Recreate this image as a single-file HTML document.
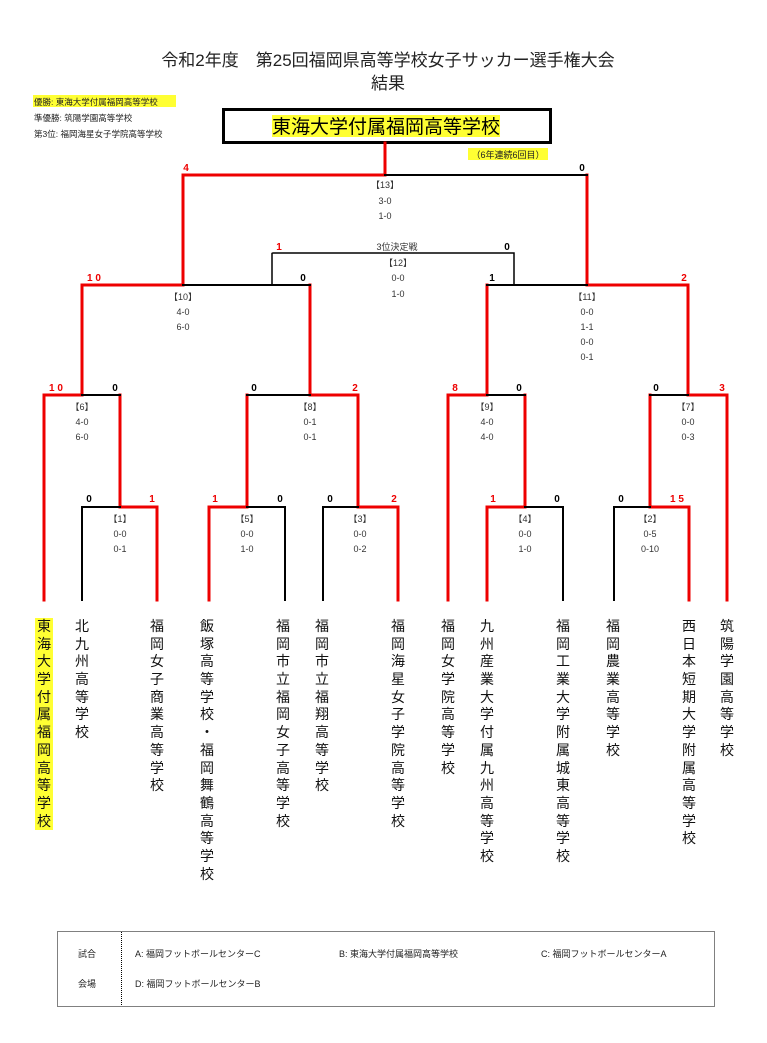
<!DOCTYPE html>
<html><head><meta charset="utf-8"><style>
html,body{margin:0;padding:0;background:#fff}
body{position:relative;width:767px;height:1043px;overflow:hidden}
svg{display:block;position:absolute;left:0;top:0}
text{font-family:"Liberation Sans","Noto Sans CJK JP",sans-serif}
.n{position:absolute;top:618px;width:18px;margin-left:-9px;font-family:"Liberation Sans","Noto Sans CJK JP",sans-serif;font-size:14px;line-height:17.7px;text-align:center;color:#111;word-break:break-all}
.n span{display:block;height:17.7px}
.y span{background:#ffff33}
</style></head><body>
<svg width="767" height="1043" viewBox="0 0 767 1043" xmlns="http://www.w3.org/2000/svg">
<text x="388" y="66" font-size="17" text-anchor="middle" fill="#222">令和2年度　第25回福岡県高等学校女子サッカー選手権大会</text>
<text x="388" y="89" font-size="17" text-anchor="middle" fill="#222">結果</text>
<rect x="33" y="95" width="143" height="12" fill="#ffff33"/>
<text x="34" y="105" font-size="8.5" fill="#222">優勝: 東海大学付属福岡高等学校</text>
<text x="34" y="121" font-size="8.5" fill="#222">準優勝: 筑陽学園高等学校</text>
<text x="34" y="137" font-size="8.5" fill="#222">第3位: 福岡海星女子学院高等学校</text>
<rect x="223.5" y="109.5" width="327" height="33" fill="#fff" stroke="#000" stroke-width="3"/>
<rect x="272" y="115" width="228" height="22" fill="#ffff33"/>
<text x="386" y="133" font-size="19" text-anchor="middle" fill="#000">東海大学付属福岡高等学校</text>
<rect x="468" y="148" width="80" height="12" fill="#ffff33"/>
<text x="508" y="158" font-size="9" text-anchor="middle" fill="#222">（6年連続6回目）</text>
<g fill="none" stroke-linecap="square">
<g stroke="#e00" stroke-width="3">
<path d="M385 143V175H183V285M587 175V285"/>
<path d="M82 285H183M82 285V395M310 285V395"/>
<path d="M587 285H688M487 285V395M688 285V395"/>
<path d="M44 395H82M44 395V600M120 395V507"/>
<path d="M120 507H157V600"/>
<path d="M310 395H358V507M247 395V507"/>
<path d="M209 507H247M209 507V600"/>
<path d="M358 507H398V600"/>
<path d="M448 395H487M448 395V600M525 395V507"/>
<path d="M487 507H525M487 507V600"/>
<path d="M688 395H727V600M650 395V507"/>
<path d="M650 507H689V600"/>
</g>
<g stroke="#000" stroke-width="2">
<path d="M385 175H587"/>
<path d="M183 285H310"/>
<path d="M487 285H587"/>
<path d="M82 395H120"/>
<path d="M82 507H120M82 507V600"/>
<path d="M247 395H310"/>
<path d="M247 507H285V600"/>
<path d="M323 507H358M323 507V600"/>
<path d="M487 395H525"/>
<path d="M525 507H563V600"/>
<path d="M650 395H688"/>
<path d="M614 507H650M614 507V600"/>
</g>
<path d="M272 285V253H514V285" stroke="#000" stroke-width="1.5" stroke-dasharray="1.5 1.5"/>
</g>
<g font-size="10" font-weight="bold" text-anchor="middle">
<text x="186" y="171" fill="#e00">4</text><text x="582" y="171" fill="#000">0</text>
<text x="279" y="250" fill="#e00">1</text><text x="507" y="250" fill="#000">0</text>
<text x="94" y="281" fill="#e00">1 0</text><text x="303" y="281" fill="#000">0</text>
<text x="492" y="281" fill="#000">1</text><text x="684" y="281" fill="#e00">2</text>
<text x="56" y="391" fill="#e00">1 0</text><text x="115" y="391" fill="#000">0</text>
<text x="254" y="391" fill="#000">0</text><text x="355" y="391" fill="#e00">2</text>
<text x="455" y="391" fill="#e00">8</text><text x="519" y="391" fill="#000">0</text>
<text x="656" y="391" fill="#000">0</text><text x="722" y="391" fill="#e00">3</text>
<text x="89" y="502" fill="#000">0</text><text x="152" y="502" fill="#e00">1</text>
<text x="215" y="502" fill="#e00">1</text><text x="280" y="502" fill="#000">0</text>
<text x="330" y="502" fill="#000">0</text><text x="394" y="502" fill="#e00">2</text>
<text x="493" y="502" fill="#e00">1</text><text x="557" y="502" fill="#000">0</text>
<text x="621" y="502" fill="#000">0</text><text x="677" y="502" fill="#e00">1 5</text>
</g>
<g font-size="9" text-anchor="middle" fill="#333">
<text x="385" y="188">【13】</text><text x="385" y="204">3-0</text><text x="385" y="219">1-0</text>
<text x="397" y="250">3位決定戦</text>
<text x="398" y="266">【12】</text><text x="398" y="281">0-0</text><text x="398" y="297">1-0</text>
<text x="183" y="300">【10】</text><text x="183" y="315">4-0</text><text x="183" y="330">6-0</text>
<text x="587" y="300">【11】</text><text x="587" y="315">0-0</text><text x="587" y="330">1-1</text><text x="587" y="345">0-0</text><text x="587" y="360">0-1</text>
<text x="82" y="410">【6】</text><text x="82" y="425">4-0</text><text x="82" y="440">6-0</text>
<text x="310" y="410">【8】</text><text x="310" y="425">0-1</text><text x="310" y="440">0-1</text>
<text x="487" y="410">【9】</text><text x="487" y="425">4-0</text><text x="487" y="440">4-0</text>
<text x="688" y="410">【7】</text><text x="688" y="425">0-0</text><text x="688" y="440">0-3</text>
<text x="120" y="522">【1】</text><text x="120" y="537">0-0</text><text x="120" y="552">0-1</text>
<text x="247" y="522">【5】</text><text x="247" y="537">0-0</text><text x="247" y="552">1-0</text>
<text x="360" y="522">【3】</text><text x="360" y="537">0-0</text><text x="360" y="552">0-2</text>
<text x="525" y="522">【4】</text><text x="525" y="537">0-0</text><text x="525" y="552">1-0</text>
<text x="650" y="522">【2】</text><text x="650" y="537">0-5</text><text x="650" y="552">0-10</text>
</g>
<g fill="none" stroke="#000" stroke-width="1" stroke-dasharray="1 1">
<rect x="57.5" y="931.5" width="657" height="75"/>
<path d="M121.5 932V1006"/>
</g>
<g font-size="9" fill="#222">
<text x="78" y="957">試合</text><text x="78" y="987">会場</text>
<text x="135" y="957">A: 福岡フットボールセンターC</text>
<text x="339" y="957">B: 東海大学付属福岡高等学校</text>
<text x="541" y="957">C: 福岡フットボールセンターA</text>
<text x="135" y="987">D: 福岡フットボールセンターB</text>
</g>
</svg>
<div class="n y" style="left:44px"><span>東</span><span>海</span><span>大</span><span>学</span><span>付</span><span>属</span><span>福</span><span>岡</span><span>高</span><span>等</span><span>学</span><span>校</span></div>
<div class="n" style="left:82px"><span>北</span><span>九</span><span>州</span><span>高</span><span>等</span><span>学</span><span>校</span></div>
<div class="n" style="left:157px"><span>福</span><span>岡</span><span>女</span><span>子</span><span>商</span><span>業</span><span>高</span><span>等</span><span>学</span><span>校</span></div>
<div class="n" style="left:207px"><span>飯</span><span>塚</span><span>高</span><span>等</span><span>学</span><span>校</span><span>・</span><span>福</span><span>岡</span><span>舞</span><span>鶴</span><span>高</span><span>等</span><span>学</span><span>校</span></div>
<div class="n" style="left:283px"><span>福</span><span>岡</span><span>市</span><span>立</span><span>福</span><span>岡</span><span>女</span><span>子</span><span>高</span><span>等</span><span>学</span><span>校</span></div>
<div class="n" style="left:322px"><span>福</span><span>岡</span><span>市</span><span>立</span><span>福</span><span>翔</span><span>高</span><span>等</span><span>学</span><span>校</span></div>
<div class="n" style="left:398px"><span>福</span><span>岡</span><span>海</span><span>星</span><span>女</span><span>子</span><span>学</span><span>院</span><span>高</span><span>等</span><span>学</span><span>校</span></div>
<div class="n" style="left:448px"><span>福</span><span>岡</span><span>女</span><span>学</span><span>院</span><span>高</span><span>等</span><span>学</span><span>校</span></div>
<div class="n" style="left:487px"><span>九</span><span>州</span><span>産</span><span>業</span><span>大</span><span>学</span><span>付</span><span>属</span><span>九</span><span>州</span><span>高</span><span>等</span><span>学</span><span>校</span></div>
<div class="n" style="left:563px"><span>福</span><span>岡</span><span>工</span><span>業</span><span>大</span><span>学</span><span>附</span><span>属</span><span>城</span><span>東</span><span>高</span><span>等</span><span>学</span><span>校</span></div>
<div class="n" style="left:613px"><span>福</span><span>岡</span><span>農</span><span>業</span><span>高</span><span>等</span><span>学</span><span>校</span></div>
<div class="n" style="left:689px"><span>西</span><span>日</span><span>本</span><span>短</span><span>期</span><span>大</span><span>学</span><span>附</span><span>属</span><span>高</span><span>等</span><span>学</span><span>校</span></div>
<div class="n" style="left:727px"><span>筑</span><span>陽</span><span>学</span><span>園</span><span>高</span><span>等</span><span>学</span><span>校</span></div>
</body></html>
